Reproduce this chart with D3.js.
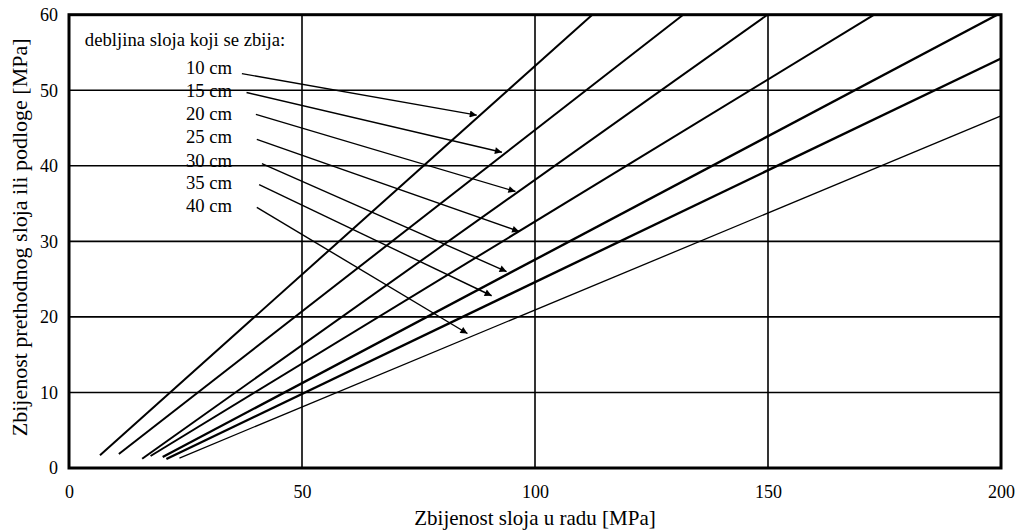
<!DOCTYPE html>
<html><head><meta charset="utf-8">
<script src="https://cdn.jsdelivr.net/npm/d3@7"></script>
<style>
html,body{margin:0;padding:0;background:#fff;}
text{font-family:"Liberation Serif","Times New Roman",serif;fill:#000;}
</style></head>
<body><svg id="c" width="1028" height="531"></svg>
<script>
const xTicks=[0,50,100,150,200];
const yTicks=[0,10,20,30,40,50,60];
const seriesNames=["10 cm","15 cm","20 cm","25 cm","30 cm","35 cm","40 cm"];
const lineStartX=[6.65,10.7,15.7,17.5,20.1,20.9,23.7];
const lineStartY=[1.68,1.85,1.23,1.59,1.46,1.19,1.32];
const lineEndX=[112.3,131.8,149.9,172.8,199.2,200,200];
const lineEndY=[60,60,60,60,60,54.2,46.6];
const arrowFromX=[37.1,38.1,40.1,40.3,41.4,40.8,40.3];
const arrowFromY=[52.2,49.7,46.8,43.5,40.3,37.5,34.5];
const arrowToX=[87.5,92.9,95.8,96.6,93.9,90.7,85.5];
const arrowToY=[46.7,41.8,36.6,31.3,26.0,22.8,17.8];
const labelY=[52.2,49.1,46.1,43.0,39.9,36.9,33.9];
const legendTitle="debljina sloja koji se zbija:";
const xTitle="Zbijenost sloja u radu [MPa]";
const yTitle="Zbijenost prethodnog sloja ili podloge [MPa]";

const L=69,R=1001,T=14.7,B=468;
const x=d3.scaleLinear().domain([0,200]).range([L,R]);
const y=d3.scaleLinear().domain([0,60]).range([B,T]);
const svg=d3.select("#c");

// legend text (drawn under grid)
svg.append("text").attr("x",x(3.4)).attr("y",y(55.8)).attr("font-size",18.7).text(legendTitle);
svg.selectAll("text.lab").data(seriesNames).join("text").attr("class","lab")
  .attr("x",x(35)).attr("y",(d,i)=>y(labelY[i])).attr("text-anchor","end").attr("font-size",18.7).text(d=>d);

// grid
const g=svg.append("g");
g.selectAll("line.gx").data(xTicks.slice(1,-1)).join("line").attr("class","gx")
 .attr("x1",d=>x(d)).attr("x2",d=>x(d)).attr("y1",T).attr("y2",B).attr("stroke","#000").attr("stroke-width",1.6);
g.selectAll("line.gy").data(yTicks.slice(1,-1)).join("line").attr("class","gy")
 .attr("y1",d=>y(d)).attr("y2",d=>y(d)).attr("x1",L).attr("x2",R).attr("stroke","#000").attr("stroke-width",1.6);

// axes tick labels
const xa=d3.axisBottom(x).tickValues(xTicks).tickSize(0).tickPadding(0);
const gx=svg.append("g").attr("transform",`translate(0,${B})`).call(xa);
gx.select(".domain").remove();
gx.selectAll("text").attr("dy",0).attr("y",30).attr("font-size",18);
const ya=d3.axisLeft(y).tickValues(yTicks).tickSize(0).tickPadding(0);
const gy=svg.append("g").attr("transform",`translate(${L},0)`).call(ya);
gy.select(".domain").remove();
gy.selectAll("text").attr("x",-11).attr("dy","0.32em").attr("font-size",18);

// main lines
const widths=[2,2,2,2,2.4,2.4,1.3];
svg.selectAll("line.ser").data(seriesNames).join("line").attr("class","ser")
 .attr("x1",(d,i)=>x(lineStartX[i])).attr("y1",(d,i)=>y(lineStartY[i]))
 .attr("x2",(d,i)=>x(lineEndX[i])).attr("y2",(d,i)=>y(lineEndY[i]))
 .attr("stroke","#000").attr("stroke-width",(d,i)=>widths[i]);

// arrows
svg.append("defs").append("marker").attr("id","ah").attr("viewBox","0 0 10 10")
 .attr("refX",10).attr("refY",5).attr("markerWidth",10).attr("markerHeight",7)
 .attr("markerUnits","userSpaceOnUse").attr("orient","auto")
 .append("path").attr("d","M0,0L10,5L0,10Z").attr("fill","#000");
svg.selectAll("line.arr").data(seriesNames).join("line").attr("class","arr")
 .attr("x1",(d,i)=>x(arrowFromX[i])).attr("y1",(d,i)=>y(arrowFromY[i]))
 .attr("x2",(d,i)=>x(arrowToX[i])).attr("y2",(d,i)=>y(arrowToY[i]))
 .attr("stroke","#000").attr("stroke-width",1.4).attr("marker-end","url(#ah)");

// frame
svg.append("rect").attr("x",L).attr("y",T).attr("width",R-L).attr("height",B-T)
 .attr("fill","none").attr("stroke","#000").attr("stroke-width",3);

// titles
svg.append("text").attr("x",(L+R)/2).attr("y",525).attr("text-anchor","middle").attr("font-size",21).text(xTitle);
svg.append("text").attr("transform",`translate(27,${(T+B)/2 - 4}) rotate(-90)`).attr("text-anchor","middle").attr("font-size",22).text(yTitle);
</script></body></html>
